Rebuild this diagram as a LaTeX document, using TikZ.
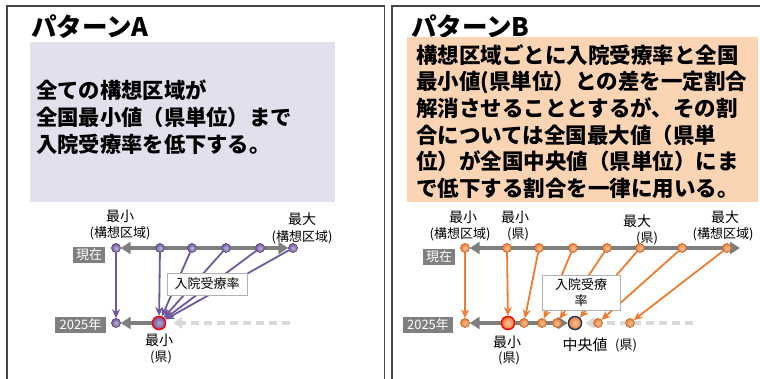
\documentclass[tikz,border=0pt]{standalone}
\usepackage{fontspec}
\setmainfont{Noto Sans CJK JP}
\usetikzlibrary{arrows.meta}
\definecolor{pur}{RGB}{112,88,160}
\definecolor{org}{RGB}{237,125,49}
\definecolor{lav}{RGB}{228,223,236}
\definecolor{peach}{RGB}{251,212,180}
\definecolor{axg}{RGB}{127,127,127}
\definecolor{dashg}{RGB}{217,217,217}
\definecolor{framec}{RGB}{70,70,70}
\definecolor{navy}{RGB}{31,56,100}
\newcommand\fsz[2]{\fontsize{#1}{#2}\selectfont}
\begin{document}
\begin{tikzpicture}[x=1pt,y=-1pt,
  pt/.style={circle,inner sep=0pt,minimum size=9pt,line width=0.4pt},
  ppt/.style={pt,inner color=pur!45!white,outer color=pur,draw=pur!80!black},
  opt/.style={pt,inner color=org!45!white,outer color=org,draw=org!80!black},
  bigpt/.style={circle,inner sep=0pt,minimum size=13pt,line width=1.3pt},
  pbig/.style={bigpt,inner color=pur!55!white,outer color=pur},
  obig/.style={bigpt,inner color=org!45!white,outer color=org},
  axisline/.style={draw=axg,line width=4pt},
  tipA/.tip={Triangle[length=10pt,width=12pt]},
  dashline/.style={draw=dashg,line width=4pt,dash pattern=on 8pt off 5pt},
  tipD/.tip={Triangle[length=9pt,width=11pt,color=dashg]},
  parr/.style={draw=pur,line width=1.8pt,-{Stealth[length=9pt,width=8pt]}},
  oarr/.style={draw=org,line width=1.8pt,-{Stealth[length=9pt,width=8pt]}},
  tag/.style={fill=axg,text=white,font=\fsz{13}{15},inner sep=1pt,minimum height=16pt},
  lbl/.style={draw=axg!60,fill=white,font=\fsz{13}{16},inner sep=2pt,align=center},
  big/.style={font=\fsz{14}{16},inner sep=0pt},
  small/.style={font=\fsz{13}{15},inner sep=0pt},
  title/.style={font=\bfseries\fsz{25.5}{28},anchor=west,inner sep=0pt},
  body/.style={font=\bfseries\fsz{21.3}{27},anchor=west,inner sep=0pt,align=left},
  framel/.style={draw=framec,line width=1.5pt}
]
\useasboundingbox (0,0) rectangle (760,379);
% frames
\draw[framel] (7,379) -- (7,6) -- (384.5,6) -- (384.5,379);
\draw[framel] (392,379) -- (392,6) -- (760,6);
% ---------------- Pattern A ----------------
\node[title] (tA) at (31,27) {パターンA};
\fill[lav] (30,42) rectangle (335,202);
\node[body] (xA) at (36,117) {全ての構想区域が\\全国最小値（県単位）まで\\入院受療率を低下する。};

\node[big] (lA1) at (120,216) {最小};
\node[small] (lA2) at (120,233) {(構想区域)};
\node[big] (lA3) at (302,219) {最大};
\node[small] (lA4) at (302,237) {(構想区域)};
\node[tag,minimum width=32pt] (gA1) at (89,255) {現在};
\node[tag,minimum width=51pt] (gA2) at (80.5,324.5) {2025年};

\node[ppt] (t1) at (116,248) {};
\node[ppt] (t2) at (160,248) {};
\node[ppt] (t3) at (192,248) {};
\node[ppt] (t4) at (226,248) {};
\node[ppt] (t5) at (260,248) {};
\node[ppt] (t6) at (293,248) {};
\node[ppt] (b1) at (116,323) {};
\node[pbig,draw=red] (mA) at (159,323) {};
\coordinate (dA) at (290,323);

\draw[axisline,tipA-tipA] (t1) -- (t6);
\draw[axisline,tipA-] (b1) -- (mA);
\draw[dashline,-tipD,shorten >=7pt] (dA) -- (mA);
\draw[parr] (t1) -- (b1);
\foreach \s in {t2,t3,t4,t5,t6} \draw[parr] (\s) -- (mA);
\node[lbl,minimum width=80pt,minimum height=22pt] (rA) at (207,284) {入院受療率};
% redraw points on top
\foreach \s/\x in {t1/116,t2/160,t3/192,t4/226,t5/260,t6/293} \node[ppt] at (\x,248) {};
\node[ppt] at (116,323) {};
\node[pbig,draw=red] at (159,323) {};
\node[big] (lA5) at (159,340) {最小};
\node[small] (lA6) at (161,357) {(県)};

% ---------------- Pattern B ----------------
\node[title] (tB) at (411,27) {パターンB};
\fill[peach] (407,37) rectangle (758,202);
\node[body,font=\bfseries\fsz{21.5}{26.6}] (xB) at (416,121.5) {構想区域ごとに入院受療率と全国\\最小値(県単位）との差を一定割合\\解消させることとするが、その割\\合については全国最大値（県単\\位）が全国中央値（県単位）にま\\で低下する割合を一律に用いる。};

\node[big] (lB1) at (463,217) {最小};
\node[small] (lB2) at (460,234) {(構想区域)};
\node[big] (lB3) at (515,217) {最小};
\node[small] (lB4) at (518,234) {(県)};
\node[big] (lB5) at (637,221) {最大};
\node[small] (lB6) at (647,238) {(県)};
\node[big] (lB7) at (725,217) {最大};
\node[small] (lB8) at (723,234) {(構想区域)};
\node[tag,minimum width=32pt] (gB1) at (439,257) {現在};
\node[tag,minimum width=50pt] (gB2) at (428,324.5) {2025年};

\node[opt] (T1) at (465,248) {};
\node[opt] (T2) at (507,248) {};
\node[opt] (T3) at (539,248) {};
\node[opt] (T4) at (573,248) {};
\node[opt] (T5) at (607,248) {};
\node[opt] (T6) at (640,248) {};
\node[opt] (T7) at (682,248) {};
\node[opt] (T8) at (727,248) {};
\coordinate (TR) at (740,248);
\node[opt] (B1) at (465,323) {};
\node[obig,draw=red] (Bmin) at (508,323) {};
\node[opt] (B3) at (524,323) {};
\node[opt] (B4) at (542,323) {};
\node[opt] (B5) at (557,323) {};
\node[obig,draw=navy] (Bmed) at (575,323) {};
\node[opt] (B7) at (598,323) {};
\node[opt] (B8) at (630,323) {};
\coordinate (DR) at (693,323);

\draw[axisline,tipA-tipA] (T1) -- (TR);
\draw[axisline,tipA-tipA] (B1) -- (Bmed);
\draw[dashline,-tipD,shorten >=3pt] (DR) -- (Bmed);
\draw[oarr] (T1) -- (B1);
\draw[oarr] (T2) -- (Bmin);
\draw[oarr] (T3) -- (B3);
\draw[oarr] (T4) -- (B4);
\draw[oarr] (T5) -- (B5);
\draw[oarr] (T6) -- (Bmed);
\draw[oarr] (T7) -- (B7);
\draw[oarr] (T8) -- (B8);
\node[lbl,minimum width=78pt,minimum height=35pt] (rB) at (581,292.5) {入院受療\\率};
% redraw points on top
\foreach \x in {465,507,539,573,607,640,682,727} \node[opt] at (\x,248) {};
\foreach \x in {465,524,542,557,598,630} \node[opt] at (\x,323) {};
\node[obig,draw=red] at (508,323) {};
\node[obig,draw=navy] at (575,323) {};
\node[big] (lB9) at (507,342) {最小};
\node[small] (lB10) at (509,358) {(県)};
\node[font=\fsz{15}{17},inner sep=0pt] (lB11) at (585,345) {中央値};
\node[small] (lB12) at (626,345) {(県)};
\end{tikzpicture}
\end{document}
